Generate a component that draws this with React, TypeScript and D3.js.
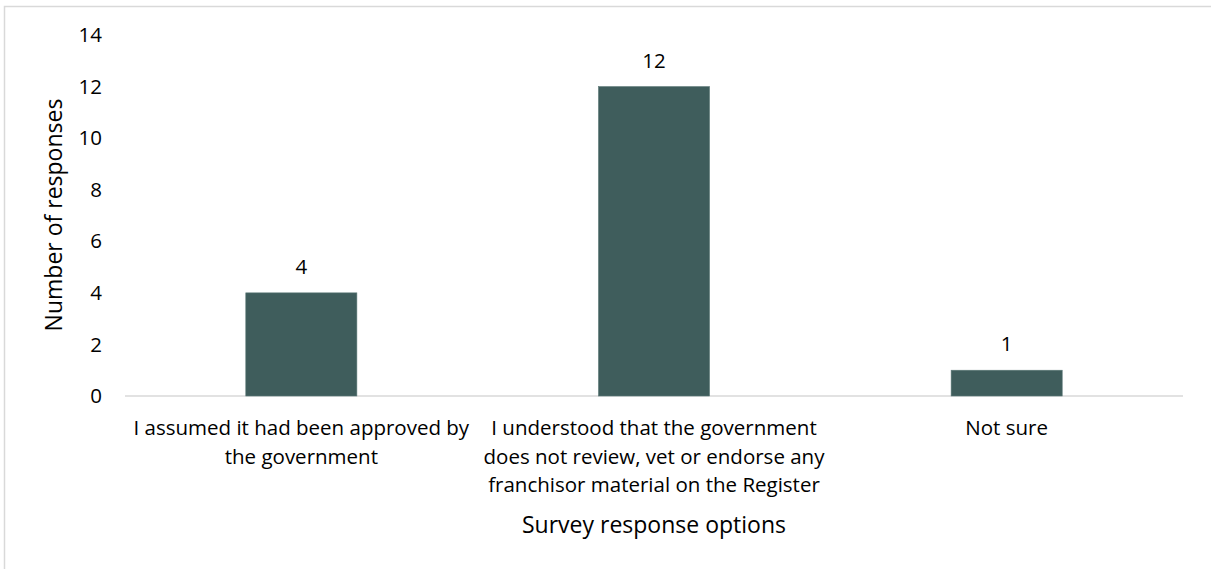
import React from "react";
import * as d3 from "d3";

const categories: string[][] = [
  ["I assumed it had been approved by", "the government"],
  ["I understood that the government", "does not review, vet or endorse any", "franchisor material on the Register"],
  ["Not sure"],
];
const values: number[] = [4, 12, 1];
const yTicks: number[] = [0, 2, 4, 6, 8, 10, 12, 14];
const xTitle = "Survey response options";
const yTitle = "Number of responses";

const W = 1211;
const H = 569;
const FONT = "'Open Sans', sans-serif";

export default function App() {
  const left = 125;
  const right = 1183;
  const top = 35;
  const bottom = 396;
  const keys = categories.map((_, i) => String(i));
  const x = d3.scaleBand<string>().domain(keys).range([left, right]).padding(0);
  const y = d3.scaleLinear().domain([0, 14]).range([bottom, top]);
  const barFrac = 0.315;
  const bw = x.bandwidth() * barFrac;
  const tickFs = 20.5;
  const titleFs = 23;
  const lineH = 28.5;

  return (
    <svg width={W} height={H} style={{ position: "absolute", left: 0, top: 0, background: "#fff" }}>
      <rect x={4.5} y={6.5} width={W + 10} height={H + 10} fill="#fff" stroke="#d9d9d9" strokeWidth={1.5} />
      {yTicks.map((t) => (
        <text key={t} x={102} y={y(t)} dy="0.35em" textAnchor="end" fontFamily={FONT} fontSize={tickFs} fill="#000">
          {t}
        </text>
      ))}
      <line x1={left} x2={right} y1={y(0)} y2={y(0)} stroke="#d9d9d9" strokeWidth={1.5} />
      {values.map((v, i) => {
        const cx = (x(keys[i]) as number) + x.bandwidth() / 2;
        return (
          <g key={i}>
            <rect x={cx - bw / 2} y={y(v)} width={bw} height={y(0) - y(v)} fill="#3f5d5c" stroke="#5d7978" strokeWidth={0.6} />
            <text x={cx} y={y(v) - 26} dy="0.35em" textAnchor="middle" fontFamily={FONT} fontSize={tickFs} fill="#000">
              {v}
            </text>
          </g>
        );
      })}
      {categories.map((lines, i) => {
        const cx = (x(keys[i]) as number) + x.bandwidth() / 2;
        return (
          <text key={i} textAnchor="middle" fontFamily={FONT} fontSize={tickFs} fill="#000">
            {lines.map((l, j) => (
              <tspan key={j} x={cx} y={428 + j * lineH} dy="0.35em">
                {l}
              </tspan>
            ))}
          </text>
        );
      })}
      <text x={(left + right) / 2} y={525} dy="0.35em" textAnchor="middle" fontFamily={FONT} fontSize={titleFs} fill="#000">
        {xTitle}
      </text>
      <text transform={`translate(54, 215) rotate(-90)`} dy="0.35em" textAnchor="middle" fontFamily={FONT} fontSize={titleFs} fill="#000">
        {yTitle}
      </text>
    </svg>
  );
}
